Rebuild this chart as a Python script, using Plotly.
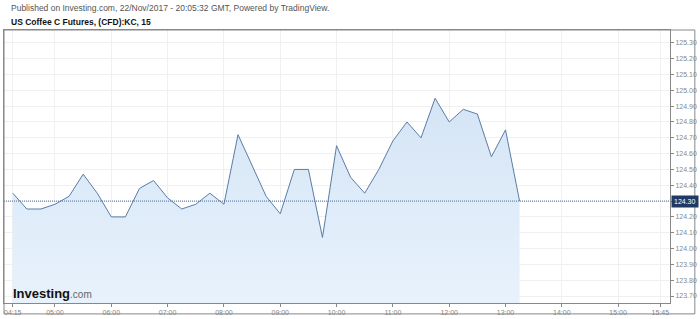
import plotly.graph_objects as go
import pandas as pd

# ---- data ----
start_time = "2017-11-22 04:15"
interval = "15min"
prices = [124.35, 124.25, 124.25, 124.28, 124.33, 124.47, 124.35, 124.20, 124.20,
          124.38, 124.43, 124.32, 124.25, 124.28, 124.35, 124.28, 124.72, 124.52,
          124.33, 124.22, 124.50, 124.50, 124.07, 124.65, 124.45, 124.35, 124.50,
          124.68, 124.80, 124.70, 124.95, 124.80, 124.88, 124.85, 124.58, 124.75,
          124.30]
times = pd.date_range(start_time, periods=len(prices), freq=interval)
last_price = 124.30

x_tick_times = ["04:15", "05:00", "06:00", "07:00", "08:00", "09:00", "10:00",
                "11:00", "12:00", "13:00", "14:00", "15:00", "15:45"]
y_tick_vals = [123.70, 123.80, 123.90, 124.00, 124.10, 124.20, 124.30, 124.40,
               124.50, 124.60, 124.70, 124.80, 124.90, 125.00, 125.10, 125.20, 125.30]

title_line1 = "Published on Investing.com, 22/Nov/2017 - 20:05:32 GMT, Powered by TradingView."
title_line2 = "US Coffee C Futures, (CFD):KC, 15"

FONT = "Liberation Sans, Arial, sans-serif"

fig = go.Figure()
fig.add_trace(go.Scatter(
    x=times, y=prices, mode="lines",
    line=dict(color="#5a7ca6", width=1),
    fill="tozeroy",
    fillgradient=dict(type="vertical", start=123.65, stop=125.0,
                      colorscale=[[0, "rgba(232,242,252,1)"], [1, "rgba(212,228,245,1)"]]),
    hoverinfo="skip", showlegend=False,
))

x_tick_vals = [pd.Timestamp("2017-11-22 " + t) for t in x_tick_times]

fig.update_layout(
    width=700, height=319,
    margin=dict(l=3, r=27, t=30, b=13),
    paper_bgcolor="white", plot_bgcolor="white",
    font=dict(family=FONT, size=8, color="#666666"),
    xaxis=dict(
        range=[pd.Timestamp("2017-11-22 04:05:40"), pd.Timestamp("2017-11-22 15:55:16")],
        tickvals=x_tick_vals, ticktext=x_tick_times,
        showgrid=True, gridcolor="#f0f0f0", gridwidth=1,
        showline=True, linecolor="#888888", linewidth=1, mirror=True,
        ticks="outside", ticklen=3, tickcolor="#888888",
        tickfont=dict(size=7, color="#888888", family=FONT),
        zeroline=False,
    ),
    yaxis=dict(
        range=[123.656, 125.38125], side="right",
        tickvals=y_tick_vals, ticktext=[f"{v:.2f}" for v in y_tick_vals],
        showgrid=True, gridcolor="#f0f0f0", gridwidth=1,
        showline=True, linecolor="#888888", linewidth=1, mirror=True,
        ticks="outside", ticklen=3, tickcolor="#888888",
        tickfont=dict(size=7, color="#888888", family=FONT),
        zeroline=False,
    ),
)

# last price dotted line
fig.add_shape(type="line", xref="paper", x0=0, x1=1, yref="y", y0=last_price, y1=last_price,
              line=dict(color="#4a6a98", width=1, dash="1px,1px"))
# last price label
fig.add_annotation(xref="paper", x=1.0, xanchor="left", yref="y", y=last_price, yanchor="middle",
                   text=f"{last_price:.2f}", showarrow=False,
                   font=dict(size=7, color="white", family=FONT),
                   bgcolor="#1f3b63", borderpad=2, xshift=1)

# outer frame extension (bottom + right)
fig.add_shape(type="rect", xref="paper", yref="paper", x0=0, x1=1.0373, y0=-0.0399, y1=1,
              line=dict(color="#888888", width=1), fillcolor="rgba(0,0,0,0)", layer="above")

# titles
fig.add_annotation(xref="paper", yref="paper", x=(8 - 3) / 670, y=1 + (30 - 8) / 276,
                   xanchor="left", yanchor="middle", text=title_line1, showarrow=False,
                   font=dict(size=8.5, color="#555555", family=FONT))
fig.add_annotation(xref="paper", yref="paper", x=(8 - 3) / 670, y=1 + (30 - 22) / 276,
                   xanchor="left", yanchor="middle", text="<b>" + title_line2 + "</b>", showarrow=False,
                   font=dict(size=8.5, color="#111111", family=FONT))

# logo
fig.add_annotation(xref="paper", yref="paper", x=(10 - 3) / 670, y=(306 - 296) / 276,
                   xanchor="left", yanchor="middle",
                   text="<b>Investing</b><span style='font-size:10px;color:#666666'>.com</span>",
                   showarrow=False, font=dict(size=13, color="#111111", family=FONT))

fig.write_html("out.html")
